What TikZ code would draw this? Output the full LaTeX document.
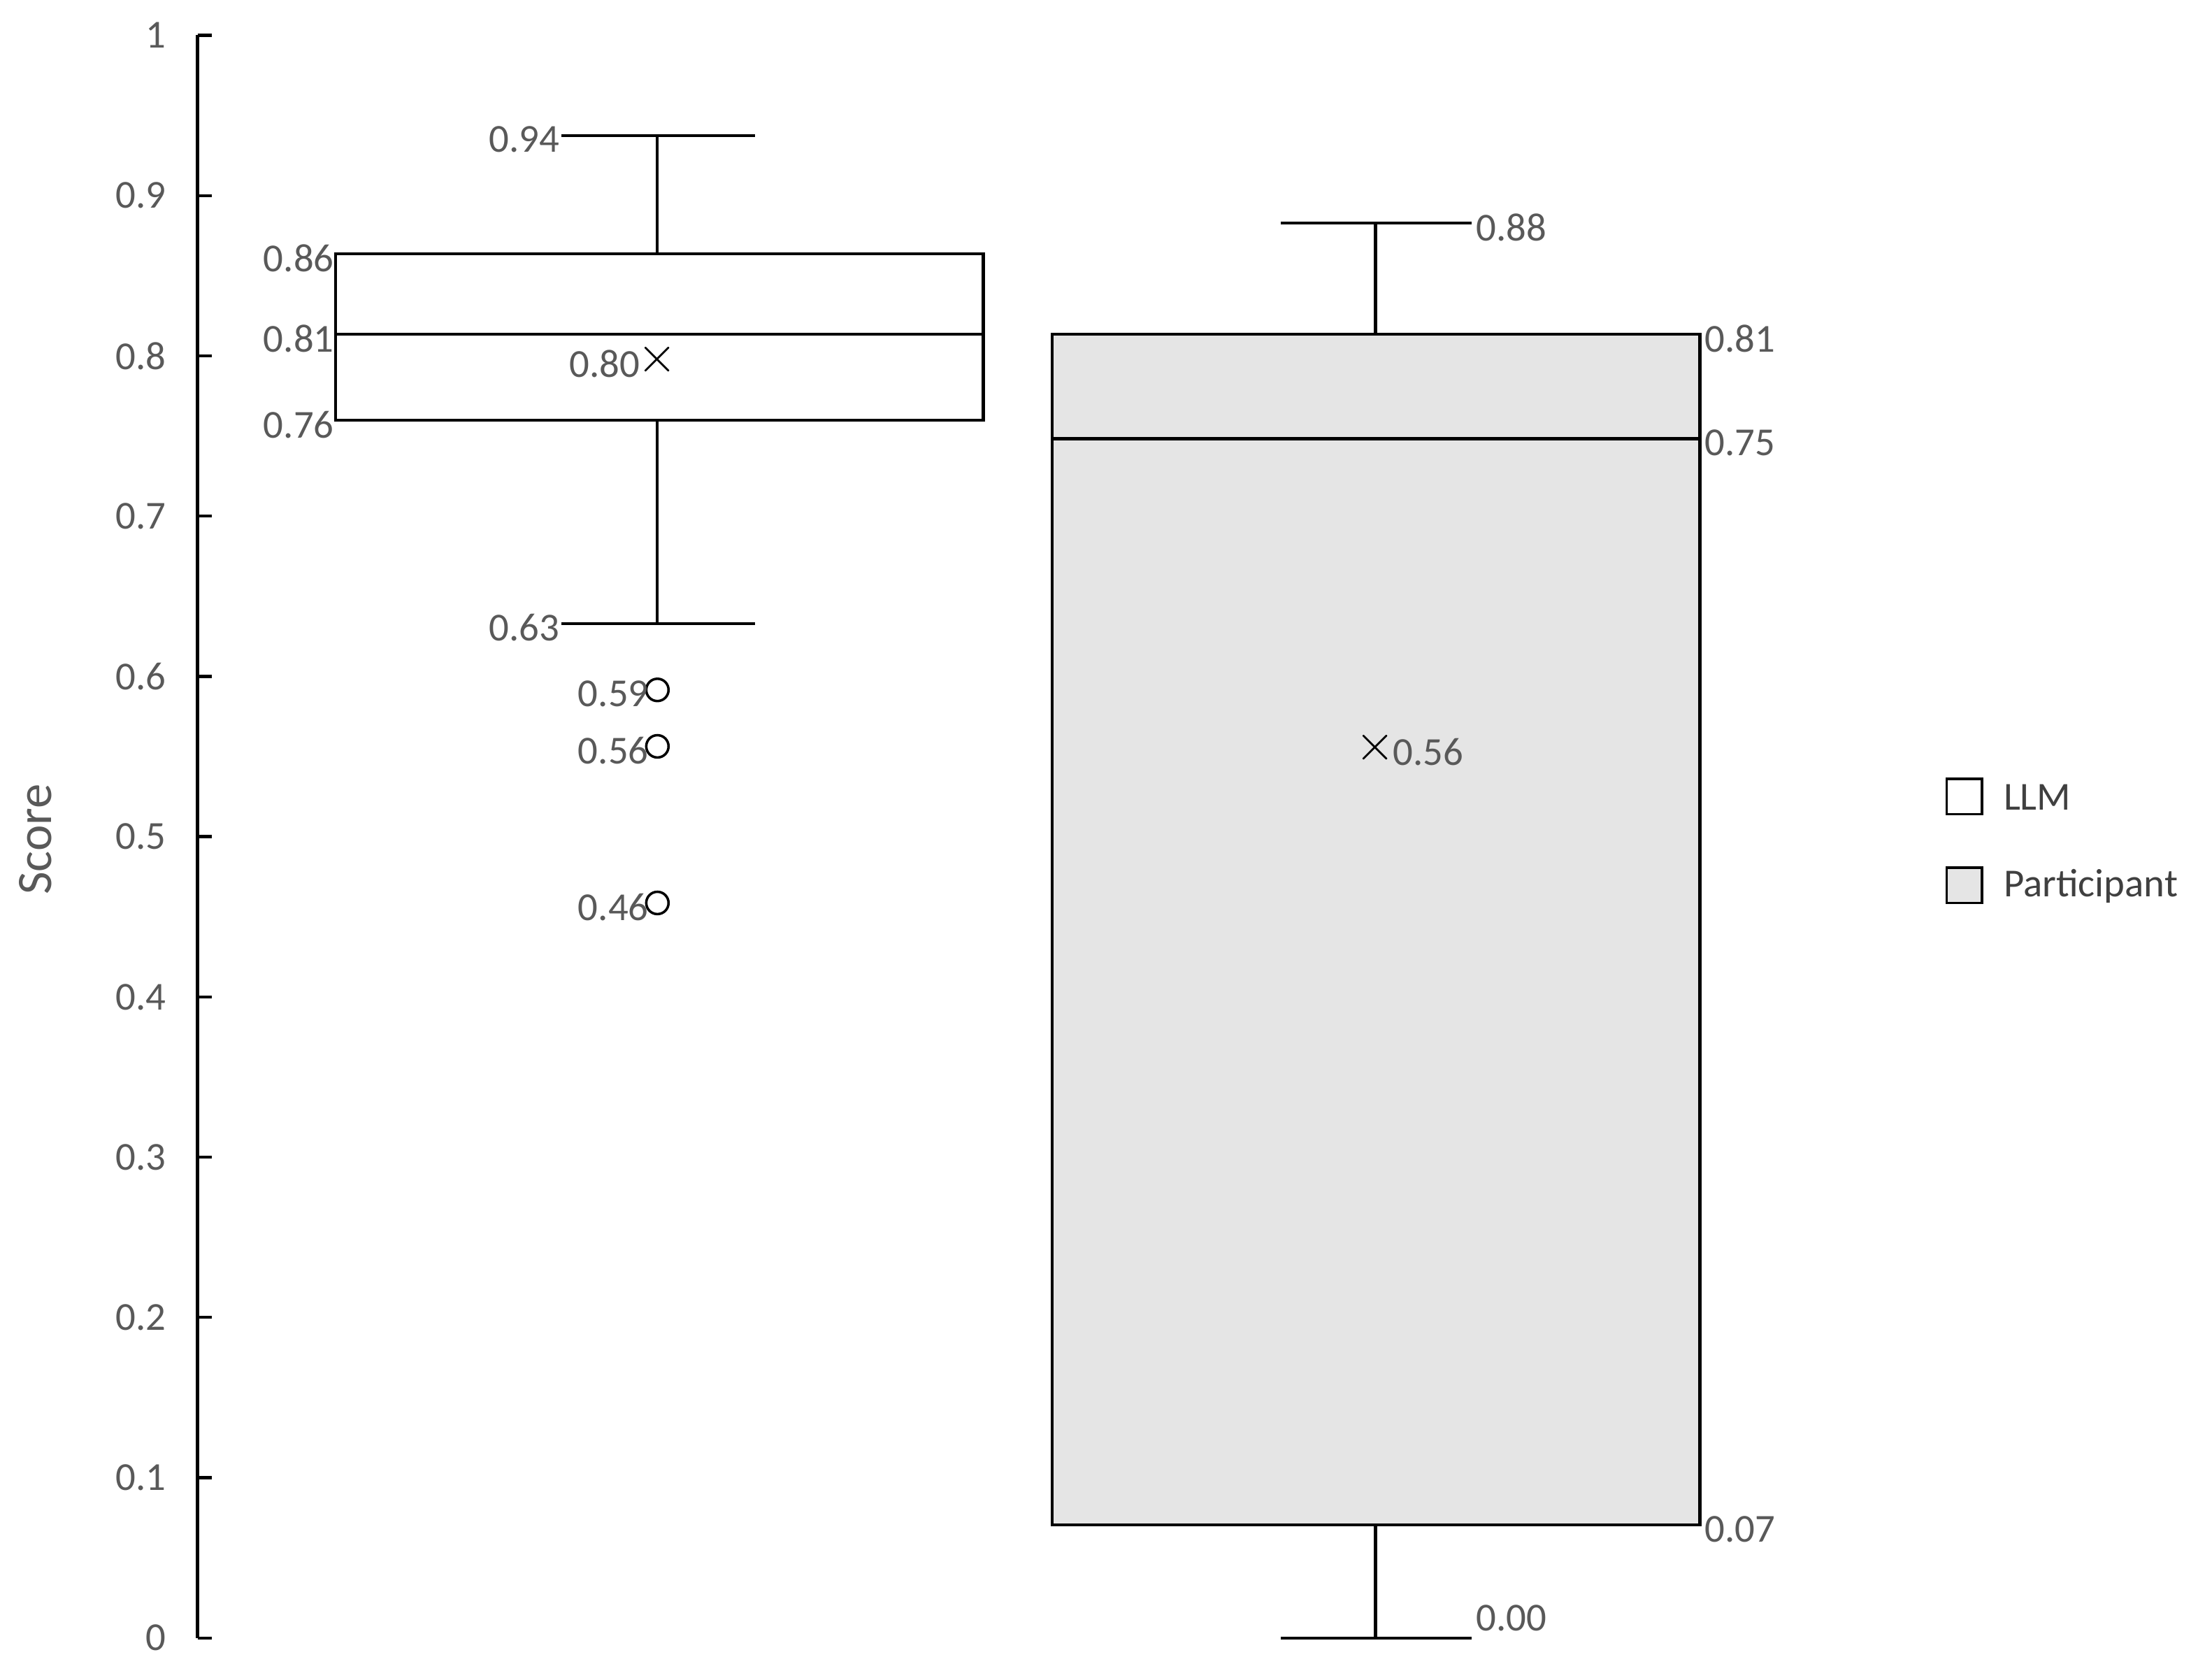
\documentclass[tikz,border=0pt]{standalone}
\usepackage{fontspec}
\setmainfont{Carlito}
\begin{document}
\begin{tikzpicture}[x=0.02cm,y=-0.02cm,
  lab/.style={text=black!65,font=\fontsize{16}{18}\selectfont,inner sep=0pt},
  ln/.style={line width=1.2pt,black},
  outl/.style={circle,draw,line width=1pt,inner sep=0pt,minimum size=9pt}]
\useasboundingbox (0,0) rectangle (1568,1184);
% axis
\draw[ln] (140,25) -- (140,1161);
\foreach \v [count=\i from 0] in {0,0.1,0.2,0.3,0.4,0.5,0.6,0.7,0.8,0.9,1}{
  \pgfmathsetmacro{\yy}{1161-113.6*\i}
  \draw[ln] (140,\yy) -- (150,\yy);
  \node[lab,anchor=east] (t\i) at (118,\yy) {\v};
}
\node[text=black!65,font=\fontsize{20}{22}\selectfont,rotate=90] (score) at (25,595) {Score};
% LLM
\draw[ln] (466,96) -- (466,180) (466,298) -- (466,442);
\draw[ln] (398,96) -- (535,96) (398,442) -- (535,442);
\draw[ln,fill=white] (238,180) rectangle (697,298);
\draw[ln] (238,237) -- (697,237);
\node[font=\fontsize{22}{22}\selectfont,inner sep=0pt] (m1) at (466,255) {$\times$};
\node[outl] (o1) at (466,489) {};
\node[outl] (o2) at (466,529) {};
\node[outl] (o3) at (466,640) {};
\node[lab,anchor=east] at (397,99) {0.94};
\node[lab,anchor=east] at (397,445) {0.63};
\node[lab,anchor=east] at (237,183) {0.86};
\node[lab,anchor=east] at (237,240) {0.81};
\node[lab,anchor=east] at (237,301) {0.76};
\node[lab,anchor=east] at (454,258) {0.80};
\node[lab,anchor=east] at (460,492) {0.59};
\node[lab,anchor=east] at (460,532) {0.56};
\node[lab,anchor=east] at (460,643) {0.46};
% Participant
\draw[ln] (975,158) -- (975,237) (975,1081) -- (975,1161);
\draw[ln] (908,158) -- (1043,158) (908,1161) -- (1043,1161);
\draw[ln,fill=black!10] (746,237) rectangle (1205,1081);
\draw[ln] (746,311) -- (1205,311);
\node[font=\fontsize{22}{22}\selectfont,inner sep=0pt] (m2) at (975,530) {$\times$};
\node[lab,anchor=west] at (1046,161) {0.88};
\node[lab,anchor=west] at (1208,240) {0.81};
\node[lab,anchor=west] at (1208,314) {0.75};
\node[lab,anchor=west] at (1208,1084) {0.07};
\node[lab,anchor=west] at (1046,1147) {0.00};
\node[lab,anchor=west] at (987,533) {0.56};
% legend
\draw[line width=1pt,fill=white] (1380,552) rectangle (1405,577);
\draw[line width=1pt,fill=black!10] (1380,615) rectangle (1405,640);
\node[lab,anchor=west,text=black!75] (l1) at (1420,565) {LLM};
\node[lab,anchor=west,text=black!75] (l2) at (1420,628) {Participant};
\end{tikzpicture}
\end{document}
